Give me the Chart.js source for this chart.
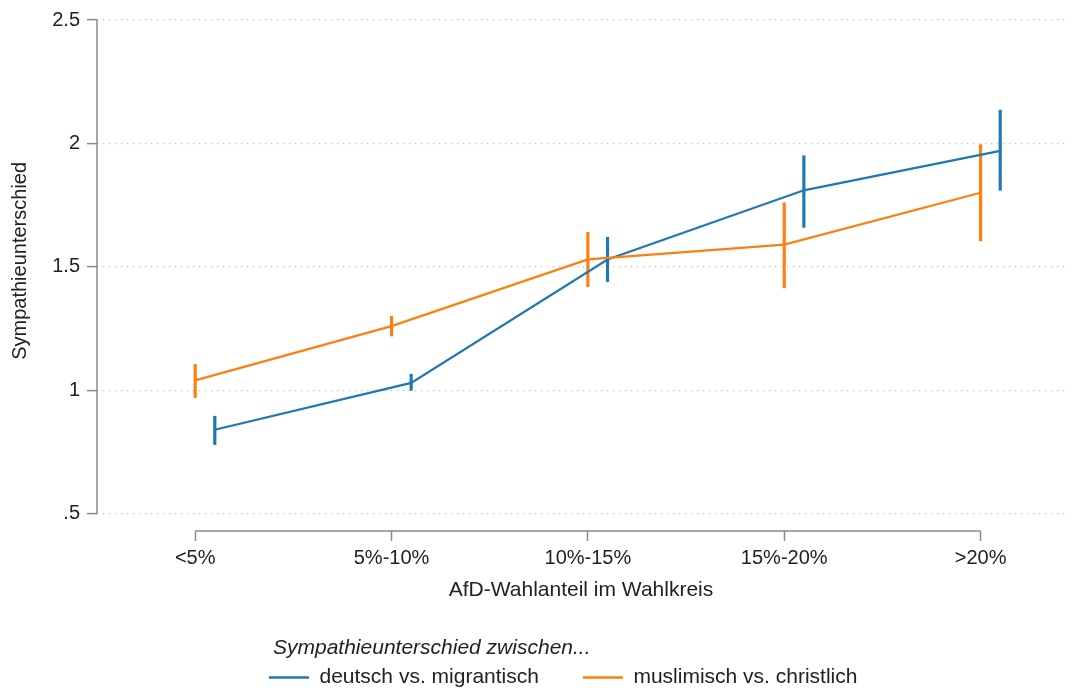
<!DOCTYPE html>
<html>
<head>
<meta charset="utf-8">
<script src="https://cdn.jsdelivr.net/npm/chart.js@4"></script>
<style>
  html, body { margin: 0; padding: 0; background: #fff; }
  #box { width: 1071px; height: 691px; position: relative; }
</style>
</head>
<body>
<div id="box"><canvas id="grafico"></canvas></div>
<script>
// categorie dell'asse x
const categorie = ['<5%', '5%-10%', '10%-15%', '15%-20%', '>20%'];

// deutsch vs. migrantisch (valore, limite inferiore, limite superiore)
const deutschWert = [0.84, 1.03, 1.53, 1.81, 1.97];
const deutschUnten = [0.78, 1.00, 1.44, 1.66, 1.81];
const deutschOben = [0.895, 1.065, 1.62, 1.95, 2.135];

// muslimisch vs. christlich
const muslimWert = [1.04, 1.26, 1.53, 1.59, 1.80];
const muslimUnten = [0.97, 1.22, 1.42, 1.415, 1.605];
const muslimOben = [1.105, 1.30, 1.64, 1.76, 1.995];

const yTickWerte = [0.5, 1, 1.5, 2, 2.5];
const yTickLabels = ['.5', '1', '1.5', '2', '2.5'];
const xTickWerte = [1, 2, 3, 4, 5];

const serieNomi = ['deutsch vs. migrantisch', 'muslimisch vs. christlich'];
const legendaTitolo = 'Sympathieunterschied zwischen...';
const yTitolo = 'Sympathieunterschied';
const xTitolo = 'AfD-Wahlanteil im Wahlkreis';

const BLU = '#1f77b4';
const ARANCIO = '#ff7f0e';
const FONT = '"Liberation Sans", Arial, sans-serif';
const SCOSTAMENTO = 0.1; // la serie blu è spostata un po' a destra

Chart.defaults.font.family = FONT;
Chart.defaults.font.size = 20;
Chart.defaults.color = '#222';

function punti(valori, scost) {
    return valori.map((v, i) => ({x: xTickWerte[i] + scost, y: v}));
}
function barre(lo, hi, scost) {
    return lo.map((v, i) => ({x: xTickWerte[i] + scost, y: [v, hi[i]]}));
}

// assi disegnati solo tra il primo e l'ultimo tick, come in Stata
const assi = {
    id: 'assi',
    beforeDatasetsDraw(chart) {
        const {ctx, chartArea, scales: {x, y}} = chart;
        ctx.save();
        ctx.strokeStyle = '#8a8a8a';
        ctx.lineWidth = 1.5;
        ctx.beginPath();
        ctx.moveTo(chartArea.left, y.getPixelForValue(yTickWerte[yTickWerte.length - 1]));
        ctx.lineTo(chartArea.left, y.getPixelForValue(yTickWerte[0]));
        ctx.moveTo(x.getPixelForValue(xTickWerte[0]), chartArea.bottom);
        ctx.lineTo(x.getPixelForValue(xTickWerte[xTickWerte.length - 1]), chartArea.bottom);
        ctx.stroke();

        // titolo asse y, centrato sul tratto disegnato dell'asse
        const centro = (y.getPixelForValue(yTickWerte[0]) + chartArea.top) / 2 - 6;
        ctx.translate(20, centro);
        ctx.rotate(-Math.PI / 2);
        ctx.font = '20px ' + FONT;
        ctx.fillStyle = '#222';
        ctx.textAlign = 'center';
        ctx.textBaseline = 'middle';
        ctx.fillText(yTitolo, 0, 0);
        ctx.restore();
    }
};

const legenda = {
    id: 'legenda',
    afterLayout(chart) {
        const lg = chart.legend;
        const w = lg.width;
        lg.left = 225;
        lg.right = 225 + w;
        lg.top = 623;
        lg.bottom = 691;
    },
    afterDraw(chart) {
        const hb = chart.legend.legendHitBoxes[0];
        if (!hb) return;
        const ctx = chart.ctx;
        ctx.save();
        ctx.font = 'italic 21px ' + FONT;
        ctx.fillStyle = '#222';
        ctx.textAlign = 'left';
        ctx.textBaseline = 'middle';
        ctx.fillText(legendaTitolo, hb.left + 4, hb.top + hb.height / 2 - 29);
        ctx.restore();
    }
};

new Chart('grafico', {
    type: 'line',
    data: {
        datasets: [
            {
                label: serieNomi[0],
                data: punti(deutschWert, SCOSTAMENTO),
                borderColor: BLU,
                backgroundColor: BLU,
                borderWidth: 2.2,
                pointRadius: 0,
                pointBorderWidth: 2.5,
                tension: 0,
                order: 1
            },
            {
                label: serieNomi[1],
                data: punti(muslimWert, 0),
                borderColor: ARANCIO,
                backgroundColor: ARANCIO,
                borderWidth: 2.2,
                pointRadius: 0,
                pointBorderWidth: 2.5,
                tension: 0,
                order: 0
            },
            {
                type: 'bar',
                label: 'ci1',
                data: barre(deutschUnten, deutschOben, SCOSTAMENTO),
                backgroundColor: BLU,
                borderWidth: 0,
                barThickness: 2.5,
                grouped: false,
                order: 3
            },
            {
                type: 'bar',
                label: 'ci2',
                data: barre(muslimUnten, muslimOben, 0),
                backgroundColor: ARANCIO,
                borderWidth: 0,
                barThickness: 2.5,
                grouped: false,
                order: 2
            }
        ]
    },
    options: {
        responsive: true,
        maintainAspectRatio: false,
        animation: false,
        layout: {padding: {top: 20, right: 6, bottom: 0, left: 0}},
        plugins: {
            legend: {
                position: 'bottom',
                align: 'start',
                maxHeight: 60,
                labels: {
                    usePointStyle: true,
                    pointStyle: 'line',
                    pointStyleWidth: 40,
                    padding: 44,
                    color: '#222',
                    font: {size: 21},
                    filter: (item) => item.datasetIndex < 2,
                    sort: (a, b) => a.datasetIndex - b.datasetIndex
                }
            },
            tooltip: {enabled: false}
        },
        scales: {
            x: {
                type: 'linear',
                min: 0.5,
                max: 5.43,
                offset: false,
                afterBuildTicks: (s) => { s.ticks = xTickWerte.map(v => ({value: v})); },
                afterFit: (s) => { s.height = 100; },
                ticks: {
                    padding: 5,
                    autoSkip: false,
                    maxRotation: 0,
                    callback: (v, i) => categorie[i]
                },
                grid: {
                    drawOnChartArea: false,
                    offset: false,
                    tickLength: 10,
                    tickColor: '#8a8a8a',
                    tickWidth: 1.5
                },
                border: {display: false},
                title: {display: true, text: xTitolo, font: {size: 21}, padding: {top: 0, bottom: 28}}
            },
            y: {
                min: 0.43,
                max: 2.5,
                afterBuildTicks: (s) => { s.ticks = yTickWerte.map(v => ({value: v})); },
                afterFit: (s) => { s.width = 97; },
                ticks: {
                    padding: 7,
                    callback: (v, i) => yTickLabels[i]
                },
                grid: {
                    color: '#bdbdbd',
                    lineWidth: 1.2,
                    tickLength: 10,
                    tickColor: '#8a8a8a',
                    tickWidth: 1.5,
                    tickBorderDash: []
                },
                border: {display: false, dash: [1.2, 4.8]},
                title: {display: false}
            }
        }
    },
    plugins: [assi, legenda]
});
</script>
</body>
</html>
